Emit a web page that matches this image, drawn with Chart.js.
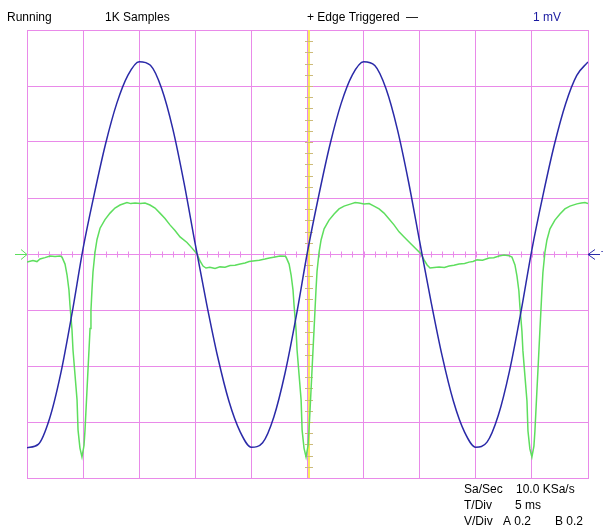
<!DOCTYPE html>
<html>
<head>
<meta charset="utf-8">
<script src="https://cdn.jsdelivr.net/npm/chart.js@4/dist/chart.umd.min.js"></script>
<style>
  html, body { margin: 0; padding: 0; background: #ffffff; }
  #scope { display: block; }
</style>
</head>
<body>
<canvas id="scope" width="603" height="529"></canvas>
<script>
// Channel A (blue), sampled every 1 ms, volts
const blueTimes = [0, 1, 2, 3, 4, 5, 6, 7, 8, 9, 10, 11, 12, 13, 14, 15, 16, 17, 18, 19, 20,
  21, 22, 23, 24, 25, 26, 27, 28, 29, 30, 31, 32, 33, 34, 35, 36, 37, 38, 39, 40,
  41, 42, 43, 44, 45, 46, 47, 48, 49, 50];
const blueVolts = [-0.692, -0.680, -0.589, -0.428, -0.215, 0.020, 0.215, 0.393, 0.538, 0.639, 0.687,
  0.674, 0.591, 0.446, 0.253, 0.034, -0.176, -0.368, -0.526, -0.635, -0.690,
  -0.674, -0.582, -0.425, -0.221, 0.008, 0.208, 0.390, 0.538, 0.640, 0.687,
  0.673, 0.590, 0.447, 0.259, 0.044, -0.168, -0.364, -0.525, -0.636, -0.690,
  -0.672, -0.577, -0.418, -0.212, 0.016, 0.212, 0.390, 0.536, 0.638, 0.686];

// Channel B (green), ms / volts
const greenTimes = [
  0.00, 0.53, 0.89, 1.16, 1.60, 2.05, 2.50, 2.94, 3.12, 3.39, 3.57, 3.74, 3.83, 4.01, 4.10, 4.28, 4.46, 4.55, 4.72, 4.90,
  5.08, 5.17, 5.35, 5.44, 5.53, 5.62, 5.70, 5.79, 5.88, 6.06, 6.24, 6.51, 6.95, 7.40, 7.84, 8.29, 8.91, 9.25, 9.63, 10.10,
  10.52, 10.96, 11.41, 11.85, 12.30, 12.74, 13.19, 13.64, 14.26, 14.71, 15.15, 15.42, 15.69, 15.95, 16.30, 16.76, 17.20, 17.65, 18.10, 18.54,
  19.00, 19.43, 19.80, 20.14, 20.70, 21.21, 21.60, 22.10, 22.55, 23.00,
  23.09, 23.36, 23.54, 23.71, 23.80, 23.98, 24.07, 24.25, 24.43, 24.52, 24.69, 24.87, 25.05, 25.14, 25.32, 25.41, 25.50, 25.59, 25.67, 25.76,
  25.85, 26.03, 26.21, 26.48, 26.92, 27.37, 27.81, 28.26, 28.88, 29.25, 29.60, 30.05, 30.49, 30.93, 31.38, 31.82, 32.27, 32.71, 33.16, 33.61,
  34.23, 34.68, 35.12, 35.39, 35.66, 35.92, 36.30, 36.73, 37.20, 37.62, 38.05, 38.51, 39.00, 39.40, 39.75, 40.11, 40.60, 41.18, 41.60, 42.07,
  42.52, 42.97,
  43.22, 43.49, 43.67, 43.84, 43.93, 44.11, 44.20, 44.38, 44.56, 44.65, 44.82, 45.00, 45.18, 45.27, 45.45, 45.54, 45.63, 45.72, 45.80, 45.89,
  45.98, 46.16, 46.34, 46.61, 47.05, 47.50, 47.94, 48.39, 49.01, 49.40, 49.73, 50.00];
const greenVolts = [
  -0.029, -0.023, -0.027, -0.018, -0.013, -0.007, -0.009, -0.007, -0.011, -0.036, -0.075, -0.129, -0.182, -0.271, -0.343, -0.432, -0.521, -0.629, -0.693, -0.725,
  -0.684, -0.629, -0.484, -0.411, -0.339, -0.266, -0.202, -0.129, -0.065, 0.006, 0.052, 0.092, 0.123, 0.146, 0.164, 0.175, 0.184, 0.180, 0.182, 0.180,
  0.182, 0.175, 0.164, 0.146, 0.127, 0.104, 0.084, 0.061, 0.041, 0.021, 0.000, -0.025, -0.043, -0.050, -0.047, -0.052, -0.046, -0.047, -0.041, -0.040,
  -0.036, -0.032, -0.027, -0.025, -0.022, -0.018, -0.014, -0.011, -0.007, -0.008,
  -0.011, -0.036, -0.075, -0.129, -0.182, -0.271, -0.343, -0.432, -0.521, -0.629, -0.693, -0.725, -0.684, -0.625, -0.482, -0.409, -0.336, -0.264, -0.199, -0.126,
  -0.062, 0.006, 0.050, 0.090, 0.121, 0.143, 0.161, 0.171, 0.179, 0.184, 0.182, 0.179, 0.180, 0.171, 0.161, 0.146, 0.125, 0.104, 0.079, 0.061,
  0.036, 0.018, 0.000, -0.021, -0.039, -0.050, -0.048, -0.046, -0.048, -0.043, -0.040, -0.036, -0.034, -0.029, -0.027, -0.021, -0.022, -0.014, -0.013, -0.007,
  -0.004, -0.006,
  -0.011, -0.039, -0.079, -0.132, -0.186, -0.275, -0.346, -0.436, -0.525, -0.632, -0.696, -0.725, -0.686, -0.632, -0.486, -0.414, -0.341, -0.268, -0.204, -0.132,
  -0.067, 0.006, 0.050, 0.090, 0.121, 0.143, 0.161, 0.171, 0.179, 0.182, 0.184, 0.180];

// screen settings
const timeRange = [0, 50];     // 10 div x 5 ms
const voltRange = [-0.8, 0.8]; // 8 div x 0.2 V
const timeDiv = 5;
const voltDiv = 0.2;

// readout texts
const topTexts = [
  { text: 'Running', x: 7, y: 21, color: '#000000' },
  { text: '1K Samples', x: 105, y: 21, color: '#000000' },
  { text: '+ Edge Triggered', x: 307, y: 21, color: '#000000' },
  { text: '\u2014', x: 406, y: 21, color: '#000000' },
  { text: '1 mV', x: 533, y: 21, color: '#1a1aa0' }
];
const bottomTexts = [
  { text: 'Sa/Sec', x: 464, y: 493 },
  { text: '10.0 KSa/s', x: 516, y: 493 },
  { text: 'T/Div', x: 464, y: 509 },
  { text: '5 ms', x: 515, y: 509 },
  { text: 'V/Div', x: 464, y: 525 },
  { text: 'A 0.2', x: 503, y: 525 },
  { text: 'B 0.2', x: 555, y: 525 }
];

const gridColor = '#e98ae9';
const blueColor = '#2a2aa8';
const greenColor = '#5ede5e';

const toPoints = (xs, ys) => xs.map((x, i) => ({ x: x, y: ys[i] }));

// scope decorations: trigger line, minor ticks, markers, readouts
const scopeDecor = {
  id: 'scopeDecor',
  beforeDatasetsDraw(chart) {
    const { ctx, chartArea, scales } = chart;
    const xs = scales.x, ys = scales.y;
    const cx = Math.round(xs.getPixelForValue((timeRange[0] + timeRange[1]) / 2));
    const cy = Math.round(ys.getPixelForValue(0)) + 0.5;
    ctx.save();
    // minor ticks on horizontal centre line
    ctx.strokeStyle = gridColor;
    ctx.lineWidth = 1;
    ctx.beginPath();
    for (let t = timeRange[0]; t <= timeRange[1]; t += timeDiv / 5) {
      const px = Math.round(xs.getPixelForValue(t)) + 0.5;
      ctx.moveTo(px, cy - 3);
      ctx.lineTo(px, cy + 3);
    }
    ctx.stroke();
    // yellow trigger line
    ctx.fillStyle = '#fbe95a';
    ctx.fillRect(cx, chartArea.top, 2, chartArea.bottom - chartArea.top);
    ctx.strokeStyle = '#cdbb7a';
    ctx.beginPath();
    for (let k = 1; k < 40; k++) {
      const py = Math.round(ys.getPixelForValue(voltRange[0] + k * voltDiv / 5)) + 0.5;
      ctx.moveTo(cx - 3, py);
      ctx.lineTo(cx + 5, py);
    }
    ctx.stroke();
    ctx.restore();
  },
  afterDraw(chart) {
    const { ctx, chartArea, scales } = chart;
    const cy = Math.round(scales.y.getPixelForValue(0)) + 0.5;
    ctx.save();
    ctx.lineWidth = 1;
    // channel B ground marker (left)
    ctx.strokeStyle = greenColor;
    ctx.beginPath();
    ctx.moveTo(chartArea.left - 12, cy);
    ctx.lineTo(chartArea.left, cy);
    ctx.moveTo(chartArea.left - 6, cy - 5);
    ctx.lineTo(chartArea.left, cy);
    ctx.lineTo(chartArea.left - 6, cy + 5);
    ctx.stroke();
    // channel A marker (right)
    ctx.strokeStyle = blueColor;
    ctx.beginPath();
    ctx.moveTo(chartArea.right, cy);
    ctx.lineTo(chartArea.right + 12, cy);
    ctx.moveTo(chartArea.right + 7, cy - 5);
    ctx.lineTo(chartArea.right, cy);
    ctx.lineTo(chartArea.right + 7, cy + 5);
    ctx.stroke();
    ctx.fillStyle = blueColor;
    ctx.font = '9px "Liberation Sans", Arial, sans-serif';
    ctx.textBaseline = 'alphabetic';
    ctx.fillText('T', chartArea.right + 13, cy + 2);
    // readouts
    ctx.font = '12px "Liberation Sans", Arial, sans-serif';
    ctx.textAlign = 'left';
    topTexts.forEach(t => {
      ctx.fillStyle = t.color;
      ctx.fillText(t.text, t.x, t.y);
    });
    ctx.fillStyle = '#000000';
    bottomTexts.forEach(t => ctx.fillText(t.text, t.x, t.y));
    ctx.restore();
  }
};

const chart = new Chart(document.getElementById('scope'), {
  type: 'line',
  data: {
    datasets: [
      {
        label: 'A',
        data: toPoints(blueTimes, blueVolts),
        borderColor: blueColor,
        borderWidth: 1.5,
        pointRadius: 0,
        cubicInterpolationMode: 'monotone',
        fill: false
      },
      {
        label: 'B',
        data: toPoints(greenTimes, greenVolts),
        borderColor: greenColor,
        borderWidth: 1.5,
        pointRadius: 0,
        tension: 0,
        fill: false
      }
    ]
  },
  options: {
    responsive: false,
    animation: false,
    events: [],
    layout: { padding: { left: 27, top: 30, right: 15, bottom: 51 } },
    scales: {
      x: {
        type: 'linear',
        min: timeRange[0],
        max: timeRange[1],
        afterFit: s => { s.height = 0; },
        ticks: { display: false, stepSize: timeDiv },
        grid: { color: gridColor, lineWidth: 1, drawTicks: false },
        border: { color: gridColor, width: 1 }
      },
      y: {
        type: 'linear',
        min: voltRange[0],
        max: voltRange[1],
        afterFit: s => { s.width = 0; },
        ticks: { display: false, stepSize: voltDiv },
        grid: { color: gridColor, lineWidth: 1, drawTicks: false },
        border: { color: gridColor, width: 1 }
      }
    },
    plugins: {
      legend: { display: false },
      tooltip: { enabled: false }
    }
  },
  plugins: [scopeDecor]
});
</script>
</body>
</html>
